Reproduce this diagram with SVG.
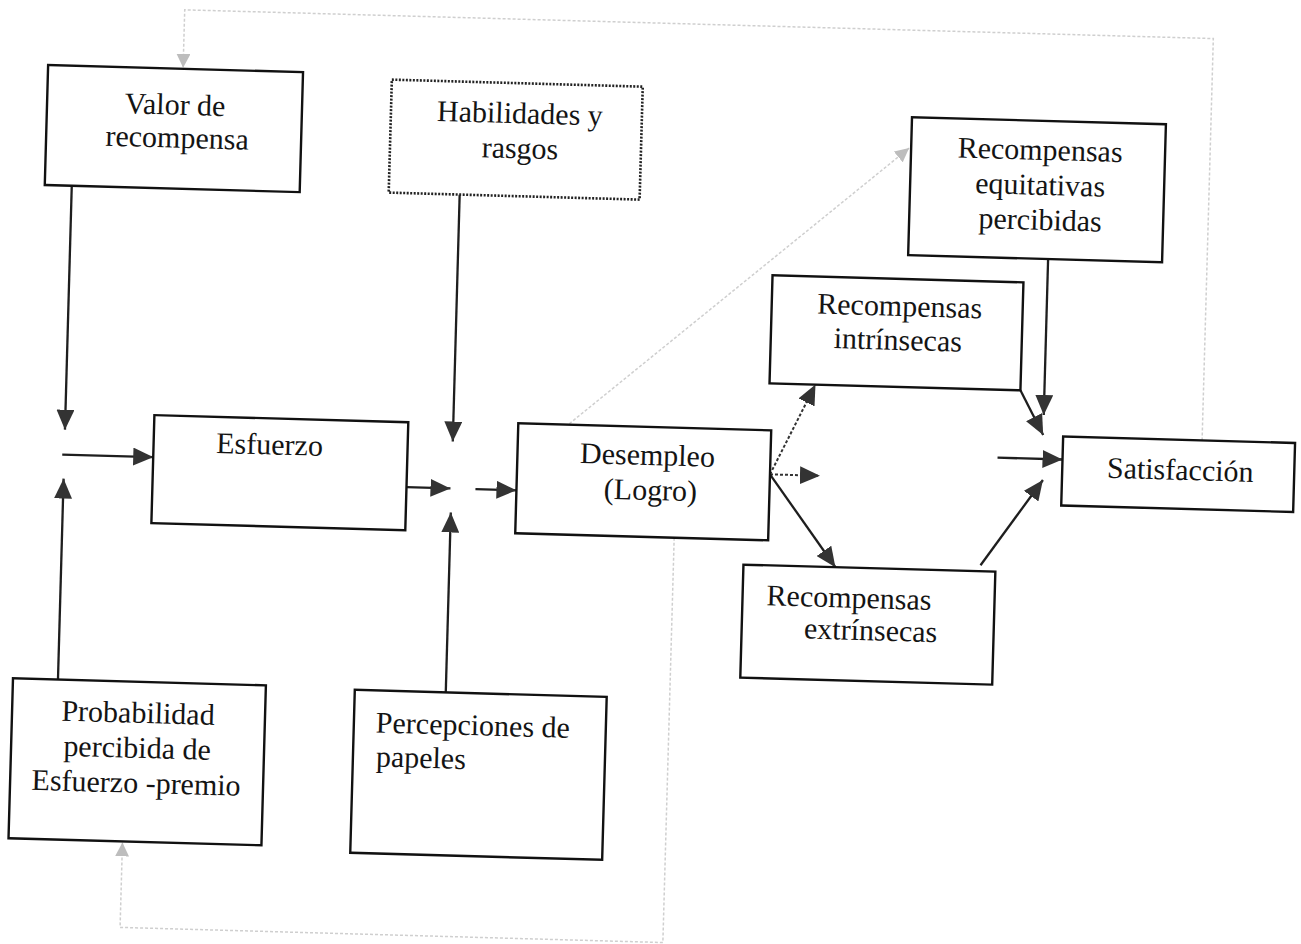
<svg xmlns="http://www.w3.org/2000/svg" width="1301" height="944" viewBox="0 0 1301 944">
  <defs>
    <marker id="ah" viewBox="0 0 20 18" refX="20" refY="9" markerWidth="20" markerHeight="18" markerUnits="userSpaceOnUse" orient="auto">
      <path d="M0,0 L20,9 L0,18 z" fill="#333"/>
    </marker>
    <marker id="ahFaint" viewBox="0 0 14 14" refX="14" refY="7" markerWidth="14" markerHeight="14" markerUnits="userSpaceOnUse" orient="auto">
      <path d="M0,0 L14,7 L0,14 z" fill="#bdbdbd"/>
    </marker>
  </defs>
  <style>
    .box { fill: #fff; stroke: #111; stroke-width: 2.4; }
    .dotbox { fill: #fff; stroke: #222; stroke-width: 2.6; stroke-dasharray: 2 1.5; }
    .lbl { font-family: "Liberation Serif", "Times New Roman", serif; font-size: 30px; fill: #141414; }
    .mid { text-anchor: middle; }
    .edge { fill: none; stroke: #1e1e1e; stroke-width: 2.3; marker-end: url(#ah); }
    .edge-dot { fill: none; stroke: #333; stroke-width: 2; stroke-dasharray: 3 2; marker-end: url(#ah); }
    .feedback { fill: none; stroke: #cfcfcf; stroke-width: 1.5; stroke-dasharray: 3 2; marker-end: url(#ahFaint); }
  </style>
  <rect width="1301" height="944" fill="#fff"/>

  <g transform="rotate(1.6 650 472)">
    <!-- connectors -->
    <g id="connectors">
      <!-- feedback loops -->
      <path class="feedback" d="M1201,425 V23 H172 V81"/>
      <path class="feedback" d="M568,426 L900,141"/>
      <path class="feedback" d="M676,537 V942 H133 V857"/>

      <!-- inputs to effort -->
      <path class="edge" d="M64,202 V446"/>
      <path class="edge" d="M62,471 H153"/>
      <path class="edge" d="M64,696 V495"/>

      <!-- inputs to performance -->
      <path class="edge" d="M407,494 H451"/>
      <path class="edge" d="M452,200 V447"/>
      <path class="edge" d="M452,698 V518"/>
      <path class="edge" d="M476,494 H517"/>

      <!-- performance to rewards -->
      <path class="edge-dot" d="M770,471 L813,380"/>
      <path class="edge-dot" d="M770,471 H820"/>
      <path class="edge" d="M770,471 L838,562"/>

      <!-- rewards to satisfaction -->
      <path class="edge" d="M1042,248 V404"/>
      <path class="edge" d="M1018,380 L1042,424"/>
      <path class="edge" d="M997,448 H1062"/>
      <path class="edge" d="M983,556 L1043,469"/>
    </g>

    <g id="valor">
      <rect class="box" x="37" y="82" width="255" height="120"/>
      <text class="lbl mid" x="165" y="128">Valor de</text>
      <text class="lbl mid" x="168" y="161">recompensa</text>
    </g>

    <g id="habilidades">
      <rect class="dotbox" x="381" y="87" width="251" height="113"/>
      <text class="lbl mid" x="510" y="127">Habilidades y</text>
      <text class="lbl mid" x="511" y="162">rasgos</text>
    </g>

    <g id="equitativas">
      <rect class="box" x="902" y="110" width="254" height="138"/>
      <text class="lbl mid" x="1031" y="149">Recompensas</text>
      <text class="lbl mid" x="1032" y="184">equitativas</text>
      <text class="lbl mid" x="1033" y="219">percibidas</text>
    </g>

    <g id="intrinsecas">
      <rect class="box" x="767" y="272" width="251" height="108"/>
      <text class="lbl mid" x="895" y="309">Recompensas</text>
      <text class="lbl mid" x="894" y="343">intrínsecas</text>
    </g>

    <g id="esfuerzo">
      <rect class="box" x="153" y="429" width="254" height="108"/>
      <text class="lbl mid" x="269" y="465">Esfuerzo</text>
    </g>

    <g id="desempleo">
      <rect class="box" x="517" y="427" width="253" height="110"/>
      <text class="lbl mid" x="647" y="465">Desempleo</text>
      <text class="lbl mid" x="651" y="500">(Logro)</text>
    </g>

    <g id="satisfaccion">
      <rect class="box" x="1062" y="425" width="232" height="69"/>
      <text class="lbl mid" x="1180" y="465">Satisfacción</text>
    </g>

    <g id="extrinsecas">
      <rect class="box" x="746" y="562" width="252" height="113"/>
      <text class="lbl" x="770" y="602">Recompensas</text>
      <text class="lbl mid" x="875" y="634">extrínsecas</text>
    </g>

    <g id="probabilidad">
      <rect class="box" x="19" y="696" width="253" height="160"/>
      <text class="lbl mid" x="145" y="737">Probabilidad</text>
      <text class="lbl mid" x="145" y="772">percibida de</text>
      <text class="lbl mid" x="145" y="807">Esfuerzo -premio</text>
    </g>

    <g id="percepciones">
      <rect class="box" x="361" y="698" width="252" height="163"/>
      <text class="lbl" x="383" y="740">Percepciones de</text>
      <text class="lbl" x="384" y="774">papeles</text>
    </g>
  </g>
</svg>
